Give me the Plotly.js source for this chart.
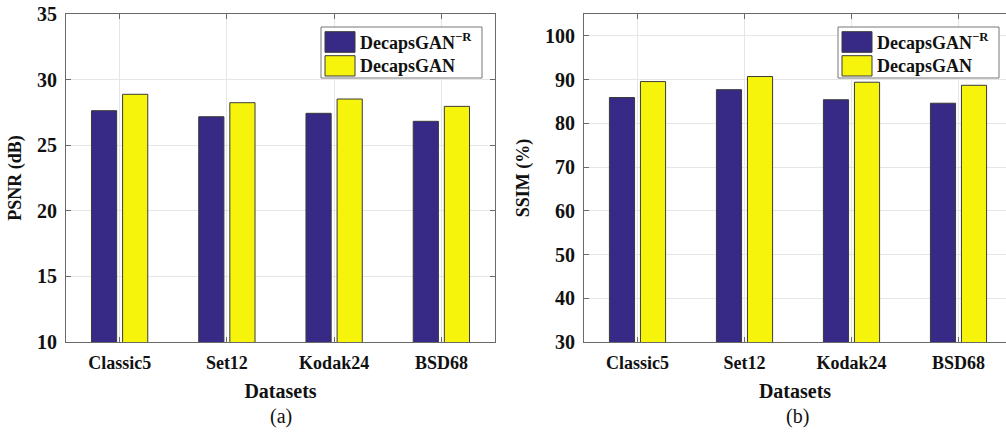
<!DOCTYPE html>
<html><head><meta charset="utf-8">
<script src="https://cdn.plot.ly/plotly-3.0.1.min.js"></script>
<style>html,body{margin:0;padding:0;background:#fff}#chart{width:1006px;height:433px}</style>
</head><body><div id="chart"></div><script>
// ---- data ----
const datasets = ["Classic5", "Set12", "Kodak24", "BSD68"];
const seriesNames = ["DecapsGAN<sup>\u2212R</sup>", "DecapsGAN"];
const psnrAblation = [27.63, 27.17, 27.43, 26.82];
const psnrFull = [28.88, 28.24, 28.52, 27.96];
const ssimAblation = [85.9, 87.7, 85.4, 84.6];
const ssimFull = [89.55, 90.7, 89.4, 88.7];
const psnrTicks = [10, 15, 20, 25, 30, 35];
const ssimTicks = [30, 40, 50, 60, 70, 80, 90, 100];
const panelLabels = ["(a)", "(b)"];
const axisTitles = {psnr: "PSNR (dB)", ssim: "SSIM (%)", x: "Datasets"};

// ---- style ----
const W = 1006, H = 433;
const fx = v => v / W, fy = v => 1 - v / H;
const FONT = "Liberation Serif, Times New Roman, serif";
const colors = ["#372a86", "#f7f40c"];
const edge = "#3a3a3a";
const axisCol = "#6a6a6a";
const gridCol = "#e6e6e6";

function bar(x, y, i, xa, ya) {
  return {type: "bar", x: x, y: y, name: seriesNames[i], xaxis: xa, yaxis: ya,
    marker: {color: colors[i], line: {color: edge, width: 1}}, showlegend: false, hoverinfo: "x+y"};
}
const traces = [
  bar(datasets, psnrAblation, 0, "x", "y"),
  bar(datasets, psnrFull, 1, "x", "y"),
  bar(datasets, ssimAblation, 0, "x2", "y2"),
  bar(datasets, ssimFull, 1, "x2", "y2")
];

function xAxis(domain, range, anchor) {
  return {domain: domain, range: range, anchor: anchor, type: "category",
    showline: true, linecolor: axisCol, linewidth: 1, mirror: "ticks",
    ticks: "inside", ticklen: 5, tickcolor: axisCol,
    showgrid: true, gridcolor: gridCol, gridwidth: 1, zeroline: false,
    tickfont: {family: FONT, size: 18, color: "#111", weight: 700},
    ticklabelstandoff: 4,
    title: {text: axisTitles.x, font: {family: FONT, size: 20, color: "#111", weight: 700}, standoff: 12},
    fixedrange: true};
}
function yAxis(range, ticks, title, mirror, anchor) {
  return {domain: [fy(342), fy(14)], range: range, anchor: anchor, tickvals: ticks,
    showline: true, linecolor: axisCol, linewidth: 1, mirror: mirror,
    ticks: "inside", ticklen: 5, tickcolor: axisCol,
    showgrid: true, gridcolor: gridCol, gridwidth: 1, zeroline: false,
    tickfont: {family: FONT, size: 20, color: "#111", weight: 700},
    ticklabelstandoff: 4,
    title: {text: title, font: {family: FONT, size: 18, color: "#111", weight: 700}, standoff: 10},
    fixedrange: true};
}

// custom legend (large MATLAB-style swatches)
const shapes = [], annotations = [];
function legend(x0) {
  shapes.push({type: "rect", xref: "paper", yref: "paper", layer: "above",
    x0: fx(x0), x1: fx(x0 + 161), y0: fy(78), y1: fy(27),
    fillcolor: "#fff", line: {color: "#777", width: 1}});
  const rows = [[31.7, 52.3, 42], [55.7, 76, 66]];
  rows.forEach((r, i) => {
    shapes.push({type: "rect", xref: "paper", yref: "paper", layer: "above",
      x0: fx(x0 + 4), x1: fx(x0 + 34), y0: fy(r[1]), y1: fy(r[0]),
      fillcolor: colors[i], line: {color: edge, width: 1}});
    annotations.push({xref: "paper", yref: "paper", x: fx(x0 + 37), y: fy(r[2]),
      xanchor: "left", yanchor: "middle", showarrow: false, text: seriesNames[i],
      font: {family: FONT, size: 18, color: "#111", weight: 700}});
  });
}
legend(321);
legend(838);
[[280.5, panelLabels[0]], [797, panelLabels[1]]].forEach(p => {
  annotations.push({xref: "paper", yref: "paper", x: fx(p[0]), y: fy(416),
    xanchor: "center", yanchor: "middle", showarrow: false, text: p[1],
    font: {family: FONT, size: 20, color: "#111"}});
});

const layout = {
  width: W, height: H, margin: {l: 0, r: 0, t: 0, b: 0},
  paper_bgcolor: "#fff", plot_bgcolor: "#fff",
  barmode: "group", bargap: 0.42, bargroupgap: 0.19,
  xaxis: xAxis([fx(66), fx(495)], [-0.5, 3.5], "y"),
  yaxis: yAxis([10, 35], psnrTicks, axisTitles.psnr, "ticks", "x"),
  xaxis2: xAxis([fx(584), 1], [-0.5, 3.444], "y2"),
  yaxis2: yAxis([30, 105], ssimTicks, axisTitles.ssim, false, "x2"),
  shapes: shapes, annotations: annotations, showlegend: false
};
Plotly.newPlot("chart", traces, layout, {displayModeBar: false});
</script></body></html>
